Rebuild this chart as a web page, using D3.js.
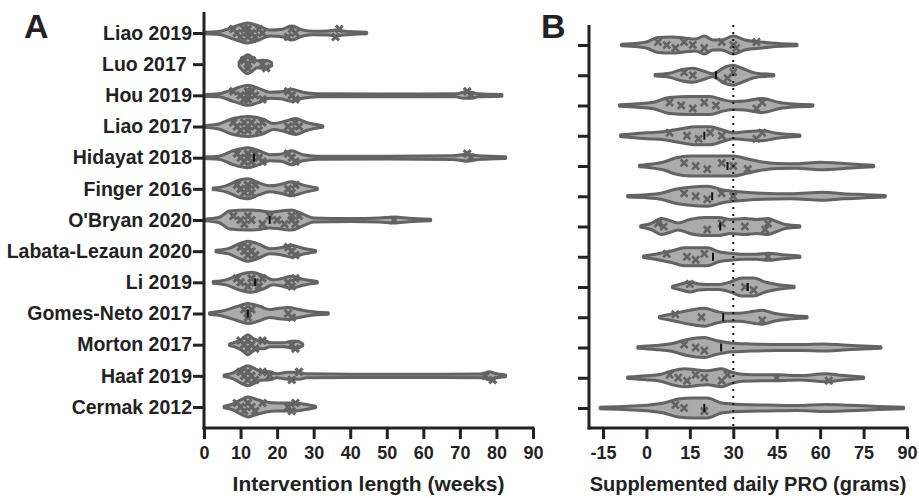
<html>
<head>
<meta charset="utf-8">
<script src="https://cdn.jsdelivr.net/npm/d3@7/dist/d3.min.js"></script>
<style>
  body { margin: 0; background: #fff; }
  text { font-family: "Liberation Sans", Arial, sans-serif; font-weight: bold; fill: #222; }
</style>
</head>
<body>
<div id="chart"></div>
<script>
// studies, top to bottom
var studies = ["Liao 2019", "Luo 2017\u00a0", "Hou 2019", "Liao 2017", "Hidayat 2018", "Finger 2016",
  "O'Bryan 2020", "Labata-Lezaun 2020", "Li 2019", "Gomes-Neto 2017", "Morton 2017", "Haaf 2019", "Cermak 2012"];

var weekTicks = [0, 10, 20, 30, 40, 50, 60, 70, 80, 90];
var proTicks = [-15, 0, 15, 30, 45, 60, 75, 90];
var proRef = 30;

// violin outlines, [value, relative density 0-10]
var lengthProfiles = [
  [[0,0.8],[4,1.5],[8,6],[12,10],[15,7],[18,3],[21,3.5],[24,7],[27,3],[30,1.8],[34,2],[36,3],[38,2],[41,1.2],[44.5,0.8]],
  [[9.6,2],[10.5,6],[12,9.5],[13.5,6],[14.5,3.5],[16,4],[17.5,3.5],[18.5,1.5]],
  [[0,0.8],[4,1.5],[8,6],[12,10],[15,7],[18,3],[21,3.5],[24,6],[27,3],[31,1.5],[50,1.3],[69,1.5],[71,3],[73,3],[75,1.5],[81.5,0.8]],
  [[0,0.8],[4,2.5],[8,8],[12,10],[16,7.5],[19,3],[22,5],[25,8],[28,4],[32.5,0.8]],
  [[0,0.8],[4,1.5],[8,7],[12,10],[15,7],[18,3],[21,3.5],[24,7],[27,3],[31,1.5],[50,1.3],[68,1.8],[72,3.5],[75,1.8],[82.5,0.8]],
  [[2.5,0.8],[6,3],[10,9],[12,10],[15,6],[18,3],[21,4.5],[24,7],[27,4],[31,0.8]],
  [[0,0.8],[4,2.5],[7,9],[12,10],[15,9.5],[18,8],[21,9],[24,10],[27,6],[30,2],[40,1.5],[48,2],[52,3],[56,1.8],[62,0.8]],
  [[3.3,0.8],[7,3],[10,8],[12,10],[15,7],[18,2.5],[21,3.5],[24,6],[27,3],[30.5,0.8]],
  [[2.5,0.8],[6,2.5],[10,8],[13,10],[16,7],[19,2.5],[21,3.5],[24,6],[27,3],[31,0.8]],
  [[1.5,0.8],[5,2.5],[9,7],[12,10],[15,7.5],[18,4],[20,5],[23,6],[26,4],[29,2],[34,0.8]],
  [[7,0.8],[9,3],[10.5,6],[12,10],[13.5,6],[15,4],[16.5,4],[18,2],[22,2],[24,3.5],[25.5,3.5],[27,0.8]],
  [[5.5,0.8],[8,3],[10,7],[12,10],[14,7],[15.5,4.5],[18,4],[20,2],[23,3.5],[26,3.5],[28,2],[50,1.6],[76,1.8],[78,4],[80,2],[82.5,0.8]],
  [[5.5,0.8],[8,3],[10,7],[12,10],[14,8],[17,5],[20,4],[24,4],[27,3],[30.5,0.8]]
];

var proProfiles = [
  [[-8.6,0.8],[-3,1.8],[0,3],[4,7.5],[9,8],[13,7],[17,6],[20,9],[23,5],[26,5],[30,9],[34,5],[38,3.5],[43,2],[52,0.8]],
  [[3,0.8],[8,2],[12,5.5],[16,7],[20,4],[23,1.5],[27,8],[30,10],[33,7],[38,2],[44,0.8]],
  [[-9.3,0.8],[-3,1.8],[2,3],[8,8],[15,9],[22,9],[26,6],[30,4],[34,4.5],[40,7],[46,3],[51,1.5],[57.5,0.8]],
  [[-9,0.8],[-4,2],[0,3],[6,4],[12,7],[17,9],[22,9],[26,6],[30,3],[34,4],[40,5],[45,2.5],[53,0.8]],
  [[-2.4,0.8],[2,2],[6,4],[10,8],[15,10],[22,10],[30,10],[35,7],[40,4],[45,2.5],[52,2.2],[60,3.8],[66,3],[72,1.8],[78.5,0.8]],
  [[-6.5,0.8],[0,1.5],[5,3],[10,7],[15,9],[21,10],[27,6],[32,4.5],[40,3],[50,2.5],[61,4],[68,2.5],[76,1.6],[82.5,0.8]],
  [[-2,0.8],[2,3.5],[5,8],[8,6],[11,3.5],[15,7],[20,9],[25,9],[29,7],[34,8],[38,7],[42,8],[45,5],[48,2],[53,0.8]],
  [[-1,0.8],[4,3],[9,6],[13,9],[17,9],[21,9],[25,5],[29,3.5],[33,2.5],[38,2.5],[42,3.5],[47,2],[53,0.8]],
  [[9,0.8],[12,3],[15,5],[18,3],[21,2.5],[25,2.5],[29,5],[33,9],[37,9],[41,5],[45,2.5],[51,0.8]],
  [[4.5,0.8],[10,4],[15,7],[20,9],[24,6],[28,4],[32,4],[37,6],[40,7],[44,4],[49,2],[55.5,0.8]],
  [[-3,0.8],[3,2],[9,4],[14,8],[20,10],[24,7],[29,4.5],[36,3.5],[45,3],[54,3],[61,3.5],[68,2.5],[75,1.5],[81,0.8]],
  [[-6.5,0.8],[0,2],[5,3.5],[9,7],[13,9],[17,8],[21,7],[26,9],[29,6],[33,3.5],[40,3],[45,3],[53,2.2],[62,4],[67,2.5],[75,0.8]],
  [[-16,0.8],[-8,1.5],[0,2.8],[6,5],[11,9],[16,10],[21,10],[26,5],[33,3.5],[42,3],[52,2.5],[62,3.5],[70,2.8],[80,1.6],[88.8,0.8]]
];

// individual trial values shown inside each violin
var lengthPoints = [
  [8,9,10,11,12,12,12,13,14,15,16,23,24,25,36,37],
  [11,12,12,13,16,17],
  [8,10,11,12,12,12,13,14,16,23,24,25,72,73],
  [8,9,10,11,12,12,13,14,15,16,23,24,25,26],
  [9,10,11,12,12,13,14,15,16,23,24,25,72,73],
  [9,10,11,12,12,13,14,23,24,25],
  [8,10,11,12,13,16,18,20,22,24,24,25,26,52],
  [10,11,12,12,13,14,23,24,25],
  [9,10,12,13,14,15,16,23,24,25],
  [11,12,12,13,23,24],
  [10,11,12,12,13,14,16,24,25],
  [10,11,12,12,13,14,16,18,24,26,77,79],
  [9,10,11,12,13,14,16,23,24,25]
];
var proPoints = [
  [4,7,10,13,16,20,26,30,31,38],
  [13,16,28,30],
  [8,12,16,20,24,38,40],
  [8,14,18,22,26,38,40],
  [13,17,21,26,30,35],
  [13,17,21,26,30],
  [4,6,21,26,34,41,42],
  [7,14,17,20,42],
  [15,34,37],
  [10,19,40],
  [13,17,20],
  [8,11,14,17,20,26,28,45,63],
  [10,13,20]
];
var lengthMedians = [null, null, null, null, 13.7, null, 18, null, 14, 12, null, null, null];
var proMedians = [null, 24, null, 20, 28, 22.7, 25.5, 23, 35, 26.5, 25.8, null, 20];

var W = 919, H = 498;
var svg = d3.select("#chart").append("svg").attr("width", W).attr("height", H);

var axisY = 428;
var dark = "#222";
var violinStroke = "#636363";
var violinFill = "#ababab";

var wScale = d3.scaleLinear().domain([0, 10]).range([0, 10]);

function drawPanel(opt) {
  var g = svg.append("g");
  var x = opt.x, y = opt.y;

  // violins
  studies.forEach(function (s, i) {
    var cy = y(s);
    var area = d3.area()
      .curve(d3.curveMonotoneX)
      .x(function (d) { return x(d[0]); })
      .y0(function (d) { return cy - wScale(d[1]); })
      .y1(function (d) { return cy + wScale(d[1]); });
    g.append("path")
      .datum(opt.profiles[i])
      .attr("d", area)
      .attr("fill", violinFill)
      .attr("stroke", violinStroke)
      .attr("stroke-width", 3)
      .attr("stroke-linejoin", "round");

    // trial markers
    opt.points[i].forEach(function (v, j) {
      var off = ((j % 3) - 1) * opt.spread;
      var px = x(v), py = cy + off, r = opt.mark;
      g.append("path")
        .attr("d", "M" + (px - r) + "," + (py - r) + "L" + (px + r) + "," + (py + r) +
                   "M" + (px - r) + "," + (py + r) + "L" + (px + r) + "," + (py - r))
        .attr("stroke", violinStroke)
        .attr("stroke-width", opt.markWidth);
    });

    if (opt.medians[i] != null) {
      g.append("line")
        .attr("x1", x(opt.medians[i])).attr("x2", x(opt.medians[i]))
        .attr("y1", cy - 4).attr("y2", cy + 4)
        .attr("stroke", "#111").attr("stroke-width", 2);
    }
  });

  if (opt.ref != null) {
    g.append("line")
      .attr("x1", x(opt.ref)).attr("x2", x(opt.ref))
      .attr("y1", opt.top).attr("y2", axisY)
      .attr("stroke", "#111")
      .attr("stroke-width", 2)
      .attr("stroke-dasharray", "2,5");
  }

  // y axis
  var yAxis = d3.axisLeft(y).tickSize(11).tickPadding(1);
  if (!opt.labels) yAxis.tickFormat("");
  var ya = g.append("g").attr("transform", "translate(" + opt.left + ",0)").call(yAxis);
  ya.select(".domain").remove();
  ya.selectAll("line").attr("stroke", dark).attr("stroke-width", 3);
  ya.selectAll("text").style("font-size", "19.5px").attr("fill", dark);
  g.append("line")
    .attr("x1", opt.left).attr("x2", opt.left)
    .attr("y1", opt.top).attr("y2", axisY + 1.5)
    .attr("stroke", dark).attr("stroke-width", 3);

  // x axis
  var xAxis = d3.axisBottom(x).tickValues(opt.ticks).tickSize(11).tickSizeOuter(0).tickPadding(7)
    .tickFormat(function (d) { return String(d); });
  var xa = g.append("g").attr("transform", "translate(0," + axisY + ")").call(xAxis);
  xa.select(".domain").remove();
  xa.selectAll("line").attr("stroke", dark).attr("stroke-width", 3);
  xa.selectAll("text").style("font-size", "18px").attr("fill", dark);
  g.append("line")
    .attr("x1", opt.left - 1.5).attr("x2", x.range()[1] + 1.5)
    .attr("y1", axisY).attr("y2", axisY)
    .attr("stroke", dark).attr("stroke-width", 3);

  g.append("text")
    .attr("x", (opt.left + x.range()[1]) / 2)
    .attr("y", 491)
    .attr("text-anchor", "middle")
    .style("font-size", opt.titleSize)
    .text(opt.title);

  g.append("text")
    .attr("x", opt.letterX).attr("y", 38)
    .style("font-size", "34px")
    .attr("fill", "#111")
    .text(opt.letter);
}

drawPanel({
  x: d3.scaleLinear().domain([0, 90]).range([204, 533]),
  y: d3.scalePoint().domain(studies).range([33, 407]),
  left: 204, top: 12,
  profiles: lengthProfiles, points: lengthPoints, medians: lengthMedians,
  ticks: weekTicks, labels: true, mark: 3.5, markWidth: 3, spread: 4, ref: null,
  title: "Intervention length (weeks)", titleSize: "21px", letter: "A", letterX: 24
});

drawPanel({
  x: d3.scaleLinear().domain([-15, 90]).range([603, 907]),
  y: d3.scalePoint().domain(studies).range([45, 408]),
  left: 589, top: 25,
  profiles: proProfiles, points: proPoints, medians: proMedians,
  ticks: proTicks, labels: false, mark: 3.5, markWidth: 2.5, spread: 3, ref: proRef,
  title: "Supplemented daily PRO (grams)", titleSize: "20px", letter: "B", letterX: 541
});
</script>
</body>
</html>
